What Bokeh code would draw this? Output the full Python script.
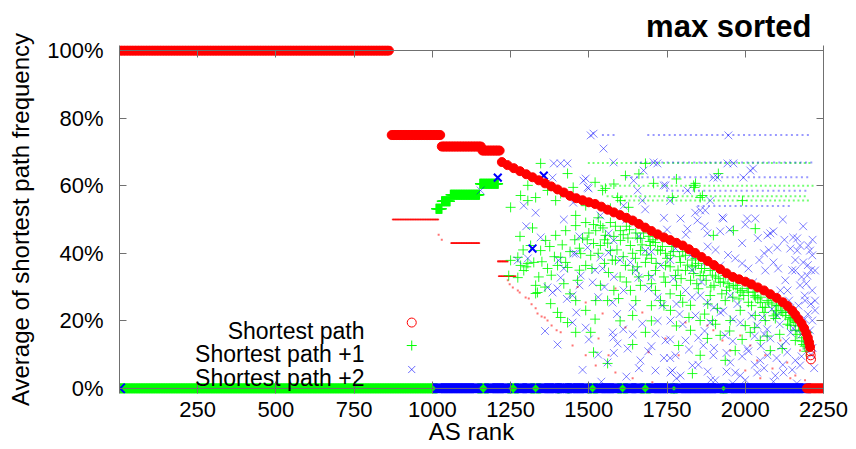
import numpy as np
from bokeh.plotting import figure
from bokeh.models import Range1d, FixedTicker, LinearAxis, Label, Span
from bokeh.embed import file_html
from bokeh.resources import INLINE

# ---------------- data ----------------
x_ticks = [250, 500, 750, 1000, 1250, 1500, 1750, 2000, 2250]
y_ticks = [0, 20, 40, 60, 80, 100]
y_tick_labels = ["0%", "20%", "40%", "60%", "80%", "100%"]

# Shortest path: plateaus (rank from, rank to, %)
red_runs = [(1, 865, 100.0), (870, 1027, 75.0), (1030, 1158, 71.6), (1160, 1216, 70.4)]
# Shortest path: sorted decline
red_curve_rank = [1222, 1240, 1260, 1280, 1300, 1320, 1340, 1360, 1380, 1400, 1420, 1440,
                  1460, 1480, 1500, 1520, 1540, 1560, 1580, 1600, 1620, 1640, 1660, 1680,
                  1700, 1720, 1740, 1760, 1780, 1800, 1820, 1840, 1860, 1880, 1900, 1920,
                  1940, 1960, 1980, 2000, 2020, 2040, 2060, 2080, 2100, 2120, 2135, 2150,
                  2160, 2170, 2180, 2188, 2195, 2200, 2204, 2207]
red_curve_pct = [67.0, 66.1, 65.2, 64.3, 63.4, 62.5, 61.6, 60.7, 59.8, 58.9, 58.0, 57.0,
                 56.3, 55.7, 55.1, 54.6, 53.8, 52.9, 52.1, 51.3, 50.5, 49.7, 48.7, 47.6,
                 46.6, 45.6, 44.7, 43.9, 43.1, 42.3, 41.2, 40.1, 38.9, 37.7, 36.5, 35.3,
                 34.1, 33.0, 32.3, 31.6, 30.8, 29.9, 29.0, 27.9, 26.8, 25.5, 24.4, 23.0,
                 21.8, 20.5, 19.2, 17.8, 16.3, 15.0, 13.6, 12.3]
red_tail_rank = [2208, 2209, 2210]
red_tail_pct = [11.0, 9.8, 8.6]
red_zero_runs = [(2197, 2250, 0.0)]
# Shortest path: small-weight points
red_line_runs = [(873, 1020, 50.0), (1060, 1150, 43.0), (1209, 1241, 37.6), (1212, 1266, 33.2)]
red_dot_rank = [1020, 1030, 1241, 1247, 1257, 1273, 1279, 1298, 1308, 1317, 1330, 1336, 1349,
                1359, 1368, 1381, 1397, 1410, 1448, 1490, 1522, 1585, 1640, 1703, 1464, 1490,
                1544, 1585, 1617, 1671, 1745, 1787, 1809, 1691, 1531, 1563, 1898, 1927, 1952,
                1984, 2016, 2038, 2064, 2087, 2112, 2134, 2160, 2175, 1879, 2000, 2048, 2144,
                2191]
red_dot_pct = [45.5, 44.0, 32.0, 30.8, 29.9, 29.0, 28.4, 26.9, 26.6, 24.9, 23.7, 22.2, 21.3,
               21.0, 20.1, 18.6, 17.2, 16.6, 12.7, 9.8, 6.8, 4.7, 3.0, 1.8, 30.0, 25.4,
               22.2, 29.6, 18.0, 22.5, 14.8, 9.8, 19.5, 10.7, 14.8, 9.8, 17.2, 14.2, 11.2,
               15.7, 12.7, 8.3, 9.8, 5.9, 14.2, 7.7, 3.8, 11.2, 18.6, 5.3, 3.0, 3.0,
               2.4]

# Shortest path +1
green_block_runs = [(1012, 1030, 53.2), (1030, 1056, 55.4), (1058, 1150, 57.3), (1152, 1210, 60.6)]
green_rank = [1305, 1346, 1432, 1250, 1282, 1305, 1330, 1368, 1410, 1394, 1553, 1617, 1627,
              1681, 1707, 1767, 1835, 1838, 1841, 1592, 1544, 1569, 1863, 1991, 1914, 2032,
              1962, 1898, 1856, 1601, 1490, 1458, 1250, 1282, 1305, 1324, 1244, 1273, 1330,
              1330, 1378, 1400, 1410, 1432, 1368, 1400, 1426, 1273, 1292, 1336, 1410, 1432,
              1474, 1515, 1464, 1346, 1314, 1362, 1394, 1426, 1458, 1490, 1522, 1553, 1537,
              1506, 1569, 1601, 1633, 1665, 1585, 1617, 1649, 1681, 1697, 1729, 1713, 1745,
              1761, 1777, 1793, 1809, 1825, 1841, 1856, 1458, 1506, 1515, 1560, 1681, 1640,
              1595, 1563, 1490, 1691, 1745, 1787, 1831, 1729, 1761, 1793, 1825, 1713, 1665,
              1537, 1522, 1458, 1490, 1633, 1866, 1920, 1962, 2006, 2048, 2080, 2112, 1911,
              1879, 1920, 2016, 2175, 2198, 1888, 1936, 1984, 2032, 2064, 2096, 2128, 2144,
              2160, 1984, 2032, 2064, 2096, 1952, 2000, 2048, 1968, 1895, 1856, 1825, 2080,
              2118, 2160, 1936, 1856, 1809, 1841, 1888, 1936, 1537, 1569, 1601, 1665, 1713,
              1580, 1620, 1650, 1690, 1640, 1700, 1760, 1800, 1830, 1600, 1660, 1740, 1780,
              1700, 1620, 1580, 1550, 1650, 1700, 1760, 1800, 1850, 1880, 1900, 1940, 1980,
              2020, 2060, 2100, 2140, 2170, 2150, 2185, 2190, 2195,
              1300, 1340, 1360, 1380, 1420, 1440, 1470, 1480, 1500, 1510, 1530, 1545, 1560,
              1575, 1590, 1610, 1625, 1640, 1655, 1670, 1685, 1705, 1715, 1735, 1750, 1770,
              1785, 1795, 1815, 1835, 1845, 1860, 1875, 1890, 1905, 1925, 1945, 1960, 1975,
              1995, 2010, 2025, 2040, 2055, 2075, 2090, 2105, 2120, 2135, 2155, 2165, 2180,
              1870, 1905, 1950, 1990, 2030, 2070, 2110, 1700, 1740, 1780, 1820, 1600, 1640,
              1560, 1520,
              1280, 1290, 1320, 1350, 1375, 1390, 1415, 1440, 1455, 1470, 1495, 1515, 1530,
              1550, 1585, 1610, 1630, 1655, 1675, 1695, 1720, 1745, 1765, 1790, 1810, 1830,
              1850, 1870, 1895, 1915, 1930, 1950, 1970, 1990, 2010, 2030, 2050, 2070, 2085,
              2100, 2115, 2130, 2145, 2160, 2175, 2185, 1450, 1520, 1580, 1660, 1780]
green_pct = [60.1, 66.6, 63.6, 53.6, 57.1, 55.6, 56.5, 58.6, 57.7, 55.6, 59.2, 63.0, 53.6,
             66.6, 60.7, 56.5, 60.1, 59.5, 60.7, 56.5, 58.6, 53.3, 57.1, 55.6, 63.6, 47.3,
             46.7, 45.3, 56.5, 55.6, 54.1, 51.2, 37.9, 36.4, 37.0, 37.3, 33.4, 32.8, 30.5,
             28.1, 25.1, 22.5, 21.0, 19.5, 35.5, 36.4, 37.3, 38.8, 34.9, 28.4, 38.8, 35.8,
             39.9, 42.9, 32.0, 40.8, 42.3, 43.8, 45.3, 46.7, 48.2, 49.1, 46.7, 45.3, 42.3,
             39.4, 40.8, 43.8, 42.3, 40.8, 37.9, 36.4, 38.5, 37.3, 42.3, 40.8, 34.9, 36.4,
             39.4, 33.4, 37.3, 34.9, 32.0, 36.4, 33.4, 16.6, 16.6, 10.7, 7.4, 16.6, 21.6,
             26.6, 34.3, 36.4, 33.4, 31.4, 12.7, 4.4, 26.0, 23.1, 27.5, 24.6, 29.0, 30.5,
             30.5, 26.0, 26.0, 23.1, 29.0, 33.4, 31.4, 30.5, 29.6, 25.4, 27.5, 24.6, 23.7,
             14.8, 15.7, 16.6, 19.5, 16.6, 27.5, 26.0, 23.1, 21.6, 20.1, 20.7, 21.6, 18.6,
             17.2, 28.5, 27.0, 24.0, 23.0, 20.1, 18.6, 14.2, 11.2, 20.1, 20.1, 17.2, 11.2,
             11.8, 14.2, 8.3, 9.8, 39.4, 38.5, 34.9, 33.4, 48.2, 49.1, 46.7, 44.4, 43.2,
             45.0, 48.0, 46.0, 45.0, 35.0, 38.5, 36.0, 40.5, 38.0, 33.0, 33.0, 33.0, 30.5,
             31.0, 31.5, 29.0, 37.0, 26.0, 24.5, 28.0, 25.5, 29.5, 25.0, 30.5, 29.0, 26.5,
             24.5, 22.5, 22.0, 20.5, 18.5, 20.8, 15.0, 12.5, 11.0,
             36.0, 33.0, 30.0, 33.5, 31.0, 28.0, 35.0, 44.5, 46.0, 35.5, 40.0, 47.5, 43.0,
             38.0, 41.0, 39.0, 44.5, 40.0, 36.0, 42.5, 39.5, 44.0, 37.0, 42.0, 38.5, 40.5,
             35.0, 32.5, 36.5, 34.0, 31.0, 35.5, 32.0, 30.0, 33.0, 28.0, 31.0, 27.0, 29.5,
             27.5, 25.5, 28.5, 26.5, 24.0, 25.5, 21.5, 24.5, 22.5, 19.0, 20.0, 16.0, 14.0,
             22.0, 19.0, 17.0, 14.5, 18.0, 15.5, 16.0, 20.0, 24.5, 18.5, 21.0, 20.0, 13.0,
             26.0, 20.5,
             45.0, 41.0, 47.5, 37.5, 42.0, 39.0, 42.5, 40.5, 44.0, 41.5, 44.0, 48.5, 50.5,
             44.0, 48.0, 45.5, 47.0, 44.5, 46.0, 43.5, 41.0, 40.0, 42.0, 39.0, 41.5, 36.0,
             37.0, 35.5, 33.5, 32.5, 31.5, 30.0, 30.5, 29.0, 28.5, 27.5, 27.0, 26.0, 25.0,
             24.5, 23.0, 22.5, 21.0, 19.5, 17.0, 13.0, 59.5, 61.0, 60.5, 63.5, 62.0]
green_line_runs = [(1500, 2215, 66.7), (1540, 2215, 60.0), (1560, 2200, 56.9), (1600, 2200, 55.6)]
green_zero_runs = [(1, 1015, 0.0), (1145, 1180, 0.0), (1241, 1276, 0.0), (1314, 1346, 0.0),
                   (1400, 1406, 0.0), (1432, 1438, 0.0), (1496, 1528, 0.0), (1592, 1624, 0.0),
                   (1665, 1697, 0.0), (1761, 1783, 0.0), (1920, 1942, 0.0)]

# Shortest path +2
blue_dark_rank = [1209, 1320, 1356]
blue_dark_pct = [62.4, 41.4, 63.0]
blue_rank = [1506, 1515, 1547, 1579, 1388, 1410, 1432, 1384, 1483, 1496, 1675, 1707, 1719,
             1643, 1656, 1745, 1671, 1793, 1815, 1847, 1563, 1458, 1563, 1490, 1499, 1946,
             1943, 1962, 2016, 2025, 1994, 1898, 1815, 1911, 1888, 1872, 1930, 2006, 2032,
             2071, 2166, 2201, 2144, 2102, 1879, 1927, 2080, 2153, 2166, 1856, 1739, 1611,
             1537, 1154, 1292, 1346, 1273, 1410, 1384, 1451, 1496, 1537, 1579, 1305, 1368,
             1400, 1403, 1512, 1448, 1576, 1611, 1448, 1490, 1579, 1592, 1560, 1671, 1713,
             1735, 1777, 1831, 1767, 1691, 1659, 1544, 1474, 1879, 1888, 1866, 1898, 1952,
             2006, 2038, 2071, 2080, 2134, 2122, 2175, 2198, 2144, 2198, 2185, 2090, 2025,
             1952, 1920, 1984, 2038, 2102, 2153, 1633, 1681, 1729, 1777, 1825, 1872, 1920,
             1968, 1809, 1856, 1761, 1809, 1841, 1936, 1984, 2048, 2096, 2160, 2207, 2191,
             2214, 2223, 2207, 2223, 2214, 2112, 2064, 2175, 1624, 1665, 1713, 1745, 1793,
             1904, 1968, 1576, 1761, 2175, 2214, 2160, 2128, 2223, 1870, 1900, 1930, 1960,
             1990, 2020, 2050, 2070, 2100, 2130, 2150, 2180, 2190, 2110, 2060, 2000, 1940,
             2140, 2200, 2215, 2220, 1720, 1760, 1800, 1850, 1780, 1740, 1690,
             1300, 1330, 1420, 1450, 1470, 1520, 1550, 1600, 1610, 1640, 1660, 1700, 1720,
             1750, 1770, 1790, 1810, 1830, 1860, 1880, 1900, 1920, 1945, 1960, 1975, 1990,
             2010, 2030, 2045, 2055, 2075, 2085, 2105, 2115, 2125, 2135, 2145, 2160, 2170,
             2180, 2190, 2200, 2210, 2215, 1890, 1960, 2030, 2090, 2165, 1850, 1780, 1620,
             1580, 1500, 1460, 1430, 1400, 1360, 1480, 1540,
             1620, 1680, 1740, 1760, 1840, 1870, 1950, 2000, 2040, 2090, 2120, 2185, 2150,
             2195, 2210, 2060, 1990, 1905, 1830, 1760, 1700, 1650, 1580, 1530, 1470, 1420,
             1640, 1700, 1760, 1820, 1880, 1940, 2010, 2060, 2120, 2180, 2210, 1660, 1590,
             1530]
blue_pct = [74.9, 75.4, 71.0, 66.9, 66.6, 66.6, 66.6, 62.4, 61.5, 59.5, 64.5, 66.9, 66.6,
            61.5, 58.6, 60.1, 55.6, 50.3, 47.3, 49.7, 45.9, 39.9, 40.2, 62.1, 59.2, 74.9,
            66.6, 66.6, 64.5, 65.1, 62.4, 62.4, 58.6, 62.4, 55.6, 52.7, 50.3, 50.3, 50.3,
            45.3, 44.4, 42.3, 41.4, 41.7, 45.9, 50.6, 45.9, 44.7, 40.8, 52.7, 60.1, 54.1,
            51.2, 58.6, 54.1, 44.7, 37.9, 32.8, 28.4, 39.9, 41.7, 38.8, 43.8, 38.5, 29.9,
            29.6, 37.9, 31.4, 27.5, 25.4, 29.0, 19.5, 18.0, 15.1, 13.3, 7.7, 19.2, 16.3,
            24.6, 9.8, 6.8, 5.3, 29.6, 32.8, 35.5, 33.4, 25.4, 19.5, 12.7, 9.8, 7.7,
            11.8, 4.7, 9.8, 14.8, 10.7, 4.7, 6.8, 12.7, 23.7, 33.4, 37.3, 37.3, 31.4,
            27.5, 22.5, 19.5, 18.6, 21.6, 17.8, 37.3, 40.8, 36.4, 41.4, 39.4, 37.3, 36.4,
            38.5, 29.0, 27.5, 20.1, 14.2, 21.6, 15.7, 3.8, 8.3, 3.8, 8.3, 17.2, 26.0,
            29.0, 34.9, 40.8, 23.1, 20.1, 29.0, 34.9, 30.5, 11.8, 8.3, 5.3, 14.2, 3.8,
            2.4, 4.7, 16.6, 4.7, 42.3, 39.4, 34.9, 32.0, 26.0, 17.0, 12.0, 23.0, 14.0,
            9.5, 21.5, 12.5, 17.5, 9.0, 14.0, 5.5, 9.5, 20.5, 19.0, 6.0, 2.5, 5.0,
            26.0, 22.0, 12.0, 6.0, 20.0, 14.5, 19.0, 15.0, 25.0, 9.0, 11.0,
            48.0, 52.0, 50.0, 55.0, 45.0, 35.0, 30.0, 38.0, 17.5, 24.0, 45.0, 33.0, 27.0,
            47.0, 32.5, 22.0, 45.5, 27.0, 31.5, 42.0, 24.0, 46.5, 39.5, 20.5, 25.0, 43.0,
            35.5, 15.5, 38.0, 21.0, 41.0, 23.5, 35.5, 12.5, 44.0, 29.0, 16.5, 38.0, 24.5,
            33.0, 27.5, 36.5, 25.0, 44.0, 2.5, 1.5, 7.0, 2.0, 1.5, 7.0, 3.0, 3.5,
            10.5, 14.5, 22.5, 26.5, 13.0, 17.0, 5.5, 2.0,
            50.0, 53.0, 50.5, 55.5, 52.0, 48.0, 47.0, 48.5, 44.5, 46.5, 50.0, 48.0, 35.0,
            31.0, 35.0, 40.0, 37.0, 41.0, 35.0, 38.0, 40.5, 35.0, 33.0, 27.0, 30.5, 35.5,
            16.0, 12.5, 9.0, 11.5, 5.0, 10.5, 11.0, 16.0, 7.0, 16.0, 10.0, 6.0, 22.0,
            10.0]
blue_line_runs = [(1545, 1580, 75.0), (1690, 2215, 75.0), (1650, 2215, 66.9), (1620, 2200, 62.5),
                  (1750, 2200, 58.5), (1850, 2150, 54.0)]
blue_zero_runs = [(1, 3, 0.0), (1015, 1145, 0.0), (1180, 1241, 0.0), (1276, 1314, 0.0),
                  (1346, 1400, 0.0), (1406, 1432, 0.0), (1438, 1496, 0.0), (1528, 1592, 0.0),
                  (1624, 1665, 0.0), (1697, 1761, 0.0), (1783, 1920, 0.0), (1942, 2197, 0.0)]

series_names = ["Shortest path", "Shortest path +1", "Shortest path +2"]

# ---------------- layout / style constants ----------------
RED, GREEN, BLUE = "#ff0000", "#00ff00", "#0000ff"
BORDER = "#707070"
FONT = "Liberation Sans"
LEGEND_TEXT_X = 245                # screen px from frame left
LEGEND_TEXT_Y = [63, 40, 16]       # screen px from frame bottom (baselines)
LEGEND_SYM_X = 934                 # legend sample position in data units
LEGEND_SYM_Y = [19.5, 12.7, 5.6]


def expand(runs, step):
    xs, ys = [], []
    for a, b, v in runs:
        for r in range(a, b + 1, step):
            xs.append(r)
            ys.append(v)
    return xs, ys


p = figure(width=850, height=449, x_range=Range1d(0, 2250), y_range=Range1d(-1.5, 101.5),
           output_backend="svg", toolbar_location=None, title="max sorted",
           min_border_left=119, min_border_right=27, min_border_top=45, min_border_bottom=56)
p.grid.visible = False
p.outline_line_color = None
p.background_fill_color = "white"
p.border_fill_color = "white"
p.title.align = "right"
p.title.offset = 12
p.title.standoff = 4
p.title.text_font = FONT
p.title.text_font_size = "31px"
p.title.text_font_style = "bold"
p.title.text_color = "black"

# small-weight points (drawn first)
x, y = expand(red_line_runs, 2)
p.scatter(x, y, marker="square", size=1.6, fill_color=RED, line_color=None, fill_alpha=0.75)
p.scatter(red_dot_rank, red_dot_pct, marker="square", size=2, fill_color=RED, line_color=None, fill_alpha=0.55)
x, y = expand(green_line_runs, 15)
p.scatter(x, y, marker="square", size=2, fill_color=GREEN, line_color=None, fill_alpha=0.55)
x, y = expand(blue_line_runs, 17)
p.scatter(x, y, marker="square", size=2, fill_color=BLUE, line_color=None, fill_alpha=0.4)

# +1 and +2 series
p.scatter(green_rank, green_pct, marker="cross", size=10, line_color=GREEN, line_width=1, line_alpha=0.85)
x, y = expand(green_block_runs, 2)
p.scatter(x, y, marker="cross", size=10, line_color=GREEN, line_width=1.5)
p.scatter(blue_rank, blue_pct, marker="x", size=11, line_color=BLUE, line_width=1, line_alpha=0.5)
p.scatter(blue_dark_rank, blue_dark_pct, marker="x", size=11, line_color=BLUE, line_width=2)

x, y = expand(green_zero_runs, 2)
p.scatter(x, y, marker="cross", size=10, line_color=GREEN, line_width=1.5)
x, y = expand(blue_zero_runs, 2)
p.scatter(x, y, marker="x", size=13, line_color=BLUE, line_width=1.5)

# shortest path series on top
x, y = expand(red_runs, 5)
p.scatter(x, y, marker="circle", size=9, fill_color=RED, line_color=RED, line_width=1)
p.scatter(red_curve_rank, red_curve_pct, marker="circle", size=9, fill_color=RED, line_color=RED, line_width=1)
p.scatter(red_tail_rank, red_tail_pct, marker="circle", size=9, fill_color=None, line_color=RED, line_width=1)
x, y = expand(red_zero_runs, 4)
p.scatter(x, y, marker="circle", size=9, fill_color=RED, line_color=RED, line_width=1)

# bottom border at 0 %
p.add_layout(Span(location=0, dimension="width", line_color=BORDER, line_width=1))

# ---------------- axes ----------------
xa = p.xaxis[0]
xa.ticker = FixedTicker(ticks=x_ticks)
ya = p.yaxis[0]
ya.ticker = FixedTicker(ticks=y_ticks)
ya.major_label_overrides = {t: s for t, s in zip(y_ticks, y_tick_labels)}

for ax in (xa, ya):
    ax.major_tick_out = 0
    ax.minor_tick_line_color = None
    ax.axis_line_color = BORDER
    ax.major_tick_line_color = BORDER
    ax.major_label_text_font = FONT
    ax.major_label_text_font_size = "22px"
    ax.major_label_text_color = "black"
    ax.axis_label_text_font = FONT
    ax.axis_label_text_font_size = "24px"
    ax.axis_label_text_font_style = "normal"
    ax.axis_label_text_color = "black"

xa.axis_line_color = None
xa.major_tick_in = 12
ya.major_tick_in = 7
xa.axis_label = "AS rank"
xa.major_label_standoff = 8
xa.axis_label_standoff = -2
ya.axis_label = "Average of shortest path frequency"
ya.major_label_standoff = 16
ya.axis_label_standoff = 10

top = LinearAxis(ticker=FixedTicker(ticks=x_ticks), fixed_location=100,
                 major_tick_in=7, major_tick_out=0, minor_tick_line_color=None,
                 major_label_text_font_size="1px", major_label_text_color=None,
                 major_label_standoff=0, axis_line_color=BORDER,
                 major_tick_line_color=BORDER)
p.add_layout(top, "above")
right = LinearAxis(ticker=FixedTicker(ticks=y_ticks),
                   major_tick_in=7, major_tick_out=0, minor_tick_line_color=None,
                   major_label_text_font_size="1px", major_label_text_color=None,
                   major_label_standoff=0, axis_line_color=BORDER,
                   major_tick_line_color=BORDER)
p.add_layout(right, "right")

# ---------------- key ----------------
for name, ty in zip(series_names, LEGEND_TEXT_Y):
    p.add_layout(Label(x=LEGEND_TEXT_X, y=ty, x_units="screen", y_units="screen", text=name,
                       text_align="right", text_baseline="alphabetic", text_font=FONT,
                       text_font_size="23px", text_color="black"))
p.scatter([LEGEND_SYM_X], [LEGEND_SYM_Y[0]], marker="circle", size=9, fill_color=None, line_color=RED, line_width=1)
p.scatter([LEGEND_SYM_X], [LEGEND_SYM_Y[1]], marker="cross", size=10, line_color=GREEN, line_width=1)
p.scatter([LEGEND_SYM_X], [LEGEND_SYM_Y[2]], marker="x", size=10, line_color=BLUE, line_width=1, line_alpha=0.6)

open("out.html", "w").write(file_html(p, INLINE))
